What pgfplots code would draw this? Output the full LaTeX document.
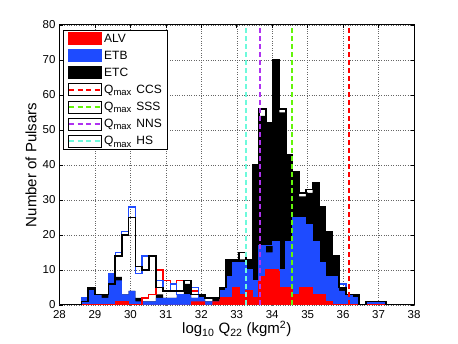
\documentclass[border=0pt]{standalone}
\usepackage{fontspec}
\setmainfont{Liberation Sans}
\usepackage{pgfplots}
\usepackage{pgfplotstable}
\pgfplotsset{compat=1.18}

\definecolor{alvred}{RGB}{255,0,0}
\definecolor{etbblue}{RGB}{30,75,255}
\definecolor{qgreen}{RGB}{100,245,10}
\definecolor{qpurple}{RGB}{175,50,240}
\definecolor{qcyan}{RGB}{110,250,220}

\newcommand{\qmax}{Q\raisebox{-2.5pt}{\fontsize{9.5}{9.5}\selectfont max}\hspace{5pt}}

% left bin edges; f = filled histogram, l = outline histogram
\pgfplotstableread{
x     etcf etbf alvf etcl etbl alvl
28.00 0  0  0  0  0  0
28.62 1  2  0  1  2  0
28.81 5  4  0  5  4  0
29.00 3  3  0  3  3  0
29.19 3  2  0  3  3  0
29.38 6  9  0  6  9  0
29.57 8  7  1  14 15 1
29.76 3  3  1  20 21 1
29.95 4  4  0  25 28 0
30.14 2  1  0  11 9  0
30.33 1  1  0  10 14 2
30.52 1  1  0  14 14 3
30.72 3  2  0  5  7  10
30.92 2  2  0  4  4  7
31.12 2  2  0  4  6  4
31.31 3  3  0  4  3  7
31.51 6  3  0  7  3  7
31.71 2  2  1  3  5  4
31.91 3  2  1  3  2  2
32.11 1  1  0  2  2  2
32.31 2  1  1  2  2  2
32.51 5  4  2  5  4  2
32.69 13 8  2  13 8  2
32.88 13 12 5  13 12 5
33.07 13 12 3  15 12 3
33.26 13 10 4  13 10 4
33.45 40 7  2  40 7  2
33.63 54 17 8  56 17 8
33.82 52 15 10 52 17 10
34.01 70 18 10 70 18 10
34.20 55 10 5  56 10 5
34.39 43 18 5  43 18 5
34.57 38 25 3  38 25 3
34.76 31 25 5  32 25 5
34.95 32 23 5  33 23 5
35.14 35 18 3  35 18 3
35.33 28 12 3  28 12 3
35.51 21 8  1  21 8  1
35.70 14 8  0  14 8  0
35.89 5  4  0  5  6  0
36.08 3  3  0  3  3  0
36.27 3  2  0  3  2  0
36.45 0  0  0  0  0  0
36.64 1  1  0  1  1  0
36.83 1  1  0  1  1  0
37.02 1  1  0  1  1  0
37.21 0  0  0  0  0  0
38.00 0  0  0  0  0  0
}\bins

\begin{document}
\begin{tikzpicture}
\path[use as bounding box] (-59.5pt,-39pt) rectangle (398.5pt,305pt);
\begin{axis}[
  scale only axis,
  width=354.5pt, height=280pt,
  xmin=28, xmax=38, ymin=0, ymax=80,
  xtick={28,29,...,38}, ytick={0,10,...,80},
  tick align=inside, major tick length=3.5pt,
  every tick/.style={black, line width=0.6pt},
  xmajorgrids, ymajorgrids,
  grid style={dotted, black!60, line width=0.5pt},
  axis line style={line width=1pt},
  font=\fontsize{11.5}{13}\selectfont,
  /pgf/number format/assume math mode=true,
  xticklabel style={yshift=-1.5pt},
  yticklabel style={xshift=-0.5pt},
  xlabel={log\textsubscript{10} Q\textsubscript{22} (kgm\textsuperscript{2})},
  ylabel={Number of Pulsars},
  label style={font=\fontsize{15}{17}\selectfont},
  xlabel style={at={(axis description cs:0.5,0)}, anchor=base, yshift=-29pt},
  ylabel style={at={(axis description cs:-0.0804,0.5)}, anchor=center},
  legend cell align=left,
  legend style={at={(0.011,0.982)}, anchor=north west, draw=black,
    line width=0.8pt, fill=white, font=\fontsize{12}{13.5}\selectfont,
    inner xsep=4pt, inner ysep=1.5pt, row sep=3.2pt},
]
\addplot[const plot, fill=black, draw=none, forget plot] table[x=x, y=etcf] {\bins} \closedcycle;
\addplot[const plot, fill=etbblue, draw=none, forget plot] table[x=x, y=etbf] {\bins} \closedcycle;
\addplot[const plot, fill=alvred, draw=none, forget plot] table[x=x, y=alvf] {\bins} \closedcycle;
\addplot[const plot, alvred, line width=1.2pt, forget plot] table[x=x, y=alvl] {\bins};
\addplot[const plot, etbblue, line width=1.2pt, forget plot] table[x=x, y=etbl] {\bins};
\addplot[const plot, black, line width=1.5pt, forget plot] table[x=x, y=etcl] {\bins};

\addplot[alvred, line width=2pt, dash pattern=on 5pt off 3pt, forget plot] coordinates {(36.16,0) (36.16,80)};
\addplot[qgreen, line width=2pt, dash pattern=on 5pt off 3pt, forget plot] coordinates {(34.56,0) (34.56,80)};
\addplot[qpurple, line width=2pt, dash pattern=on 5pt off 3pt, forget plot] coordinates {(33.66,0) (33.66,80)};
\addplot[qcyan, line width=2pt, dash pattern=on 5pt off 3pt, forget plot] coordinates {(33.27,0) (33.27,80)};

\addlegendimage{legend image code/.code={\fill[alvred] (0pt,-6pt) rectangle (33pt,6pt);}}
\addlegendentry{ALV}
\addlegendimage{legend image code/.code={\fill[etbblue] (0pt,-6pt) rectangle (33pt,6pt);}}
\addlegendentry{ETB}
\addlegendimage{legend image code/.code={\fill[black] (0pt,-6pt) rectangle (33pt,6pt);}}
\addlegendentry{ETC}
\addlegendimage{legend image code/.code={\path (0pt,-6pt) rectangle (33pt,6pt);
  \draw[alvred, line width=2pt, dash pattern=on 5pt off 3.5pt] (1pt,0pt) -- (33pt,0pt);}}
\addlegendentry{\qmax CCS}
\addlegendimage{legend image code/.code={\path (0pt,-6pt) rectangle (33pt,6pt);
  \draw[qgreen, line width=2pt, dash pattern=on 5pt off 3.5pt] (1pt,0pt) -- (33pt,0pt);}}
\addlegendentry{\qmax SSS}
\addlegendimage{legend image code/.code={\path (0pt,-6pt) rectangle (33pt,6pt);
  \draw[qpurple, line width=2pt, dash pattern=on 5pt off 3.5pt] (1pt,0pt) -- (33pt,0pt);}}
\addlegendentry{\qmax NNS}
\addlegendimage{legend image code/.code={\path (0pt,-6pt) rectangle (33pt,6pt);
  \draw[qcyan, line width=2pt, dash pattern=on 5pt off 3.5pt] (1pt,0pt) -- (33pt,0pt);}}
\addlegendentry{\qmax HS}
\end{axis}
\end{tikzpicture}
\end{document}
